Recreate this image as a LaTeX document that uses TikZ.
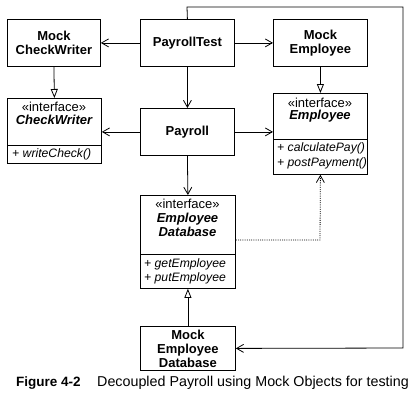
\documentclass[tikz,border=0pt]{standalone}
\usepackage{fontspec}
\setmainfont{Liberation Sans}
\usetikzlibrary{arrows.meta}
\begin{document}
\begin{tikzpicture}[x=1pt,y=-1pt,
  box/.style={draw=black, line width=0.8pt, inner sep=0pt, anchor=north west},
  bt/.style={font=\fontsize{13}{14}\selectfont\bfseries, align=center, inner sep=0pt},
  st/.style={font=\fontsize{13}{14}\selectfont, align=center, inner sep=0pt},
  ops/.style={font=\fontsize{12.2}{14.5}\selectfont\itshape, align=left, inner sep=0pt, anchor=west},
  conn/.style={line width=0.8pt},
  nav/.style={conn, -{Straight Barb[length=7pt,width=8pt,line width=0.8pt]}},
  inh/.style={conn, -{Triangle[open,length=9pt,width=7pt,line width=0.8pt]}},
  dep/.style={conn, dash pattern=on 1pt off 1.2pt, -{Straight Barb[length=7pt,width=8pt,line width=0.8pt]}}]
\useasboundingbox (0,0) rectangle (411,400);

% Mock CheckWriter
\node[box, minimum width=93pt, minimum height=47pt] (mcw) at (7,19) {};
\node[bt] (mcwt) at (mcw.center) {Mock\\CheckWriter};

% CheckWriter interface
\node[box, minimum width=94pt, minimum height=47pt] (cwh) at (7,98) {};
\node[box, minimum width=94pt, minimum height=18pt] (cwo) at (7,145) {};
\node[st] (cwst) at (54,106.5) {«interface»};
\node[bt, font=\fontsize{13}{14}\selectfont\bfseries\itshape] (cwn) at (54,120) {CheckWriter};
\node[ops] (cwop) at (12,154) {+ writeCheck()};

% PayrollTest
\node[box, minimum width=94pt, minimum height=47pt] (pt) at (140,19) {};
\node[bt] (ptt) at (pt.center) {PayrollTest};

% Payroll
\node[box, minimum width=94pt, minimum height=47pt] (pr) at (140,108) {};
\node[bt] (prt) at (pr.center) {Payroll};

% Mock Employee
\node[box, minimum width=94pt, minimum height=47pt] (me) at (273,19) {};
\node[bt] (met) at (me.center) {Mock\\Employee};

% Employee interface
\node[box, minimum width=94pt, minimum height=46pt] (eh) at (273,93) {};
\node[box, minimum width=94pt, minimum height=35pt] (eo) at (273,139) {};
\node[st] (est) at (320,102.5) {«interface»};
\node[bt, font=\fontsize{13}{14}\selectfont\bfseries\itshape] (en) at (320,116.5) {Employee};
\node[ops] (eop) at (277,156) {+ calculatePay()\\+ postPayment()};

% EmployeeDatabase interface
\node[box, minimum width=95pt, minimum height=59pt] (dbh) at (140,195) {};
\node[box, minimum width=95pt, minimum height=34pt] (dbo) at (140,254) {};
\node[st] (dbst) at (187.5,203.5) {«interface»};
\node[bt, font=\fontsize{13}{14}\selectfont\bfseries\itshape] (dbn) at (187.5,225) {Employee\\Database};
\node[ops] (dbop) at (144,271.5) {+ getEmployee\\+ putEmployee};

% Mock Employee Database
\node[box, minimum width=95pt, minimum height=44pt] (mdb) at (140,326) {};
\node[bt] (mdbt) at (mdb.center) {Mock\\Employee\\Database};

% corner points of the long connector
\coordinate (c1) at (187,7);
\coordinate (c2) at (403,7);
\coordinate (c3) at (403,348);

% connectors
\draw[nav] (pt.west) -- (mcw.east);
\draw[nav] (pt.east) -- (me.west);
\draw[nav] (pt.south) -- (pr.north);
\draw[nav] (pr.west) -- (pr.west -| cwh.east);
\draw[nav] (pr.east) -- (pr.east -| eh.west);
\draw[nav] (pr.south) -- (dbh.north);
\draw[inh] (mcw.south) -- (cwh.north);
\draw[inh] (me.south) -- (eh.north);
\draw[inh] (mdb.north) -- (dbo.south);
\draw[nav] (pt.north) -- (c1) -- (c2) -- (c3) -- (mdb.east);
\draw[dep] (dbh.east |- 0,240) -- (320,240) -- (eo.south);

% caption
\node[font=\fontsize{13.5}{15}\selectfont\bfseries, anchor=base west, inner sep=0pt] (figno) at (16,386) {Figure 4-2};
\node[font=\fontsize{14.3}{16}\selectfont, anchor=base west, inner sep=0pt] (cap) at (97,386) {Decoupled Payroll using Mock Objects for testing};
\end{tikzpicture}
\end{document}
